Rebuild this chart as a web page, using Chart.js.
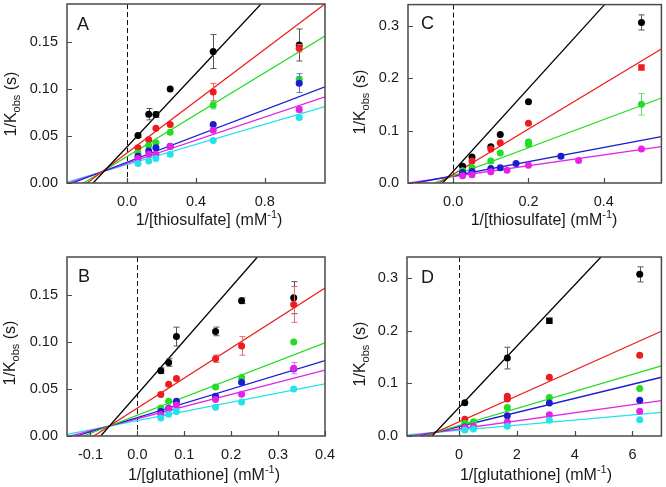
<!DOCTYPE html>
<html>
<head>
<meta charset="utf-8">
<script src="https://cdn.jsdelivr.net/npm/chart.js@4.4.1/dist/chart.umd.min.js"></script>
<style>
  body { margin: 0; background: #fff; }
  #wrap { position: relative; width: 666px; height: 487px; overflow: hidden; }
  canvas { position: absolute; }
</style>
</head>
<body>
<div id="wrap">
  <canvas id="panelA" width="333" height="243" style="left:0;top:0"></canvas>
  <canvas id="panelC" width="333" height="243" style="left:333px;top:0"></canvas>
  <canvas id="panelB" width="345" height="244" style="left:0;top:243px"></canvas>
  <canvas id="panelD" width="333" height="244" style="left:333px;top:243px"></canvas>
</div>
<script>
// ======================================================================
//  DATA
// ======================================================================

// ---- A : 1/[thiosulfate] ----
const xA = [0.0625, 0.125, 0.167, 0.25, 0.5, 1.0];
const aBlack   = [0.0505, 0.073, 0.0727, 0.0997, 0.1395, 0.1465];
const aRed     = [0.0374, 0.0458, 0.058, 0.0622, 0.0967, 0.143];
const aGreen   = [0.0318, 0.0399, 0.0427, 0.0538, 0.0827, 0.110];
const aBlue    = [0.0283, 0.0339, 0.0374, 0.039, 0.062, 0.106];
const aMagenta = [0.0259, 0.0304, 0.0304, 0.0388, 0.056, 0.078];
const aCyan    = [0.0206, 0.0234, 0.026, 0.0304, 0.045, 0.0696];
const aBlackErr   = [0.002, 0.006, 0.003, 0, 0.018, 0.017];
const aRedErr     = [0, 0, 0, 0, 0.009, 0.004];
const aGreenErr   = [0, 0, 0, 0, 0.004, 0.003];
const aBlueErr    = [0, 0, 0, 0, 0, 0.010];
const aMagentaErr = [0, 0, 0, 0, 0, 0.003];
const aCyanErr    = [0, 0, 0, 0, 0, 0.002];
// fitted lines: [x0, y0, x1, y1]
const fitA = [
    [-0.198, 0, 0.778, 0.19],
    [-0.233, 0, 1.15, 0.190],
    [-0.254, 0, 1.15, 0.156],
    [-0.319, 0, 1.15, 0.102],
    [-0.341, 0, 1.15, 0.0915],
    [-0.35, 0.001, 1.15, 0.081]
];

// ---- B : 1/[glutathione] ----
const xB = [0.05, 0.0667, 0.0833, 0.1667, 0.2222, 0.3333];
const bBlack   = [0.0693, 0.078, 0.1055, 0.111, 0.1436, 0.1468];
const bRed     = [0.044, 0.055, 0.061, 0.082, 0.0956, 0.1397];
const bGreen   = [0.0298, 0.037, 0.036, 0.052, 0.062, 0.0999];
const bBlue    = [0.026, 0.0295, 0.037, 0.0423, 0.057, 0.071];
const bMagenta = [0.0227, 0.0288, 0.033, 0.0387, 0.0444, 0.072];
const bCyan    = [0.0192, 0.023, 0.026, 0.0306, 0.036, 0.0498];
const bBlackErr   = [0.003, 0.004, 0.010, 0.0046, 0.003, 0.017];
const bRedErr     = [0, 0, 0, 0.004, 0.0098, 0.019];
const bMagentaErr = [0, 0, 0, 0, 0, 0.006];
const fitB = [
    [-0.078, 0, 0.256, 0.19],
    [-0.093, 0, 0.4, 0.157],
    [-0.115, 0, 0.4, 0.0988],
    [-0.13, 0, 0.4, 0.080],
    [-0.142, 0, 0.4, 0.070],
    [-0.15, 0.0018, 0.4, 0.0554]
];

// ---- C : 1/[thiosulfate] ----
const cBlackX   = [0.025, 0.05, 0.1, 0.125, 0.2, 0.5];
const cBlack    = [0.032, 0.0497, 0.069, 0.0925, 0.155, 0.306];
const cBlackErr = [0, 0, 0, 0, 0, 0.0144];
const cRedX     = [0.05, 0.1, 0.125, 0.2, 0.5];
const cRed      = [0.042, 0.0647, 0.0767, 0.1138, 0.22];
const cGreenX   = [0.025, 0.05, 0.1, 0.125, 0.2, 0.2, 0.5];
const cGreen    = [0.0232, 0.0296, 0.042, 0.057, 0.078, 0.0736, 0.150];
const cGreenErr = [0, 0, 0, 0, 0.004, 0, 0.0205];
const cBlueX    = [0.025, 0.05, 0.1, 0.125, 0.167, 0.286];
const cBlue     = [0.0201, 0.022, 0.0277, 0.0289, 0.037, 0.051];
const cBlueErr  = [0, 0, 0, 0, 0, 0.004];
const cMagentaX = [0.025, 0.05, 0.1, 0.143, 0.2, 0.333, 0.5];
const cMagenta  = [0.0138, 0.0157, 0.0214, 0.0245, 0.034, 0.043, 0.065];
const fitC = [
    [-0.028, 0, 0.402, 0.34],
    [-0.038, 0, 0.553, 0.2555],
    [-0.051, 0, 0.553, 0.162],
    [-0.1, 0, 0.553, 0.0883],
    [-0.118, 0, 0.553, 0.0695]
];

// ---- D : 1/[glutathione] ----
const dBlackX   = [0.2, 1.67, 3.125, 6.25];
const dBlack    = [0.0633, 0.148, 0.219, 0.307];
const dBlackErr = [0, 0.0206, 0, 0.0143];
const dRedX     = [0.2, 1.67, 1.67, 3.125, 6.25];
const dRed      = [0.0317, 0.0754, 0.0703, 0.1115, 0.1535];
const dGreenX   = [0.2, 0.5, 1.67, 3.125, 6.25];
const dGreen    = [0.024, 0.0272, 0.0539, 0.0729, 0.090];
const dBlueX    = [0.2, 1.67, 3.125, 6.25];
const dBlue     = [0.0171, 0.0387, 0.0627, 0.068];
const dMagentaX = [0.2, 0.5, 1.67, 3.125, 6.25];
const dMagenta  = [0.016, 0.0184, 0.0266, 0.0406, 0.047];
const dCyanX    = [0.2, 0.5, 1.67, 3.125, 6.25];
const dCyan     = [0.0114, 0.0133, 0.0184, 0.0298, 0.031];
const fitD = [
    [-0.93, 0, 4.91, 0.34],
    [-1.095, 0, 7, 0.199],
    [-1.244, 0, 7, 0.133],
    [-1.333, 0, 7, 0.1116],
    [-1.72, 0, 7, 0.067],
    [-1.8, 0.0022, 7, 0.045]
];

// tick values
const xTicksA = [0.0, 0.4, 0.8];
const xTicksB = [-0.1, 0.0, 0.1, 0.2, 0.3, 0.4];
const xTicksC = [0.0, 0.2, 0.4];
const xTicksD = [0, 2, 4, 6];
const yTicksAB = [0, 0.05, 0.10, 0.15];
const yTicksCD = [0, 0.1, 0.2, 0.3];

// ======================================================================
//  STYLE
// ======================================================================

const COL = {
    black:   "#000000",
    red:     "#ee1c1c",
    green:   "#22dd22",
    blue:    "#1c1cd0",
    magenta: "#e620e6",
    cyan:    "#22e2ea"
};
const ERR = {
    black:   "#555555",
    red:     "#ee6a6a",
    green:   "#70dc70",
    blue:    "#6a6ae0",
    magenta: "#e676e6",
    cyan:    "#7ae6ec"
};
const FIT_ORDER = ["black", "red", "green", "blue", "magenta", "cyan"];
const FONT = "'Liberation Sans', Arial, Helvetica, sans-serif";
const FRAME = "#4a4a4a";

// ======================================================================
//  PLUGIN : frame, inward ticks, dashed zero line, error bars, texts
// ======================================================================

const panelPlugin = {
    id: "panelDeco",
    beforeDatasetsDraw(chart) {
        const { ctx, chartArea: a, scales } = chart;
        const x0 = scales.x.getPixelForValue(0);
        ctx.save();
        ctx.strokeStyle = "#111";
        ctx.lineWidth = 1;
        ctx.setLineDash([5, 3]);
        ctx.beginPath();
        ctx.moveTo(Math.round(x0) + 0.5, a.top);
        ctx.lineTo(Math.round(x0) + 0.5, a.bottom);
        ctx.stroke();
        ctx.restore();
    },
    beforeDatasetDraw(chart, args) {
        const ds = chart.data.datasets[args.index];
        if (!ds.errors) return;
        const { ctx, scales } = chart;
        ctx.save();
        ctx.strokeStyle = ds.errColor;
        ctx.lineWidth = 1;
        ds.data.forEach((p, i) => {
            const e = ds.errors[i];
            if (!e) return;
            const px = Math.round(scales.x.getPixelForValue(p.x)) + 0.5;
            const yt = scales.y.getPixelForValue(p.y + e);
            const yb = scales.y.getPixelForValue(p.y - e);
            ctx.beginPath();
            ctx.moveTo(px, yt); ctx.lineTo(px, yb);
            ctx.moveTo(px - 3, yt); ctx.lineTo(px + 3, yt);
            ctx.moveTo(px - 3, yb); ctx.lineTo(px + 3, yb);
            ctx.stroke();
        });
        ctx.restore();
    },
    afterDraw(chart) {
        const { ctx, chartArea: a, scales } = chart;
        const o = chart.options.plugins.panelDeco;
        ctx.save();

        // inward ticks
        ctx.strokeStyle = FRAME;
        ctx.lineWidth = 1.2;
        ctx.beginPath();
        scales.x.ticks.forEach(t => {
            const px = Math.round(scales.x.getPixelForValue(t.value)) + 0.5;
            ctx.moveTo(px, a.bottom); ctx.lineTo(px, a.bottom - 5);
        });
        scales.y.ticks.forEach(t => {
            const py = Math.round(scales.y.getPixelForValue(t.value)) + 0.5;
            ctx.moveTo(a.left, py); ctx.lineTo(a.left + 5, py);
        });
        ctx.stroke();

        // frame
        ctx.lineWidth = 1.5;
        ctx.strokeRect(a.left, a.top, a.right - a.left, a.bottom - a.top);

        ctx.fillStyle = "#1a1a1a";

        // panel letter
        ctx.font = "18px " + FONT;
        ctx.textBaseline = "alphabetic";
        ctx.textAlign = "left";
        ctx.fillText(o.letter, o.letterPos[0], o.letterPos[1]);

        // y title : 1/K_obs (s)
        drawParts(ctx, [
            { t: "1/K", size: 16, dy: 0 },
            { t: "obs", size: 11, dy: 5 },
            { t: " (s)", size: 16, dy: 0 }
        ], o.yTitlePos[0], o.yTitlePos[1], true);

        // x title : 1/[...] (mM-1)
        drawParts(ctx, [
            { t: "1/[" + o.compound + "] (mM", size: 16, dy: 0 },
            { t: "-1", size: 11, dy: -6 },
            { t: ")", size: 16, dy: 0 }
        ], o.xTitlePos[0], o.xTitlePos[1], false);

        ctx.restore();
    }
};

function drawParts(ctx, parts, cx, cy, vertical) {
    let total = 0;
    parts.forEach(p => {
        ctx.font = p.size + "px " + FONT;
        p.w = ctx.measureText(p.t).width;
        total += p.w;
    });
    ctx.save();
    ctx.translate(cx, cy);
    if (vertical) ctx.rotate(-Math.PI / 2);
    ctx.textBaseline = "middle";
    ctx.textAlign = "left";
    let x = -total / 2;
    parts.forEach(p => {
        ctx.font = p.size + "px " + FONT;
        ctx.fillText(p.t, x, p.dy);
        x += p.w;
    });
    ctx.restore();
}

// ======================================================================
//  BUILD ONE PANEL
// ======================================================================

function points(xs, ys) {
    return xs.map((x, i) => ({ x: x, y: ys[i] }));
}

function buildPanel(cfg) {
    const canvas = document.getElementById(cfg.id);
    const W = canvas.width, H = canvas.height;
    const area = cfg.area;
    const datasets = [];

    cfg.series.forEach(s => {
        const shapes = s.shapes || s.x.map(() => "circle");
        datasets.push({
            data: points(s.x, s.y),
            errors: s.err || null,
            errColor: ERR[s.color],
            backgroundColor: COL[s.color],
            borderColor: COL[s.color],
            pointRadius: shapes.map(sh => sh === "rect" ? 4.6 : 3.5),
            pointStyle: shapes,
            pointBorderWidth: 0,
            showLine: false,
            order: 0
        });
    });

    cfg.fits.forEach((f, i) => {
        datasets.push({
            data: [{ x: f[0], y: f[1] }, { x: f[2], y: f[3] }],
            borderColor: COL[FIT_ORDER[i]],
            borderWidth: 1.3,
            pointRadius: 0,
            showLine: true,
            fill: false,
            clip: 0,
            order: 1
        });
    });

    const tickFont = { family: FONT, size: 14.5 };

    return new Chart(canvas, {
        type: "scatter",
        data: { datasets },
        plugins: [panelPlugin],
        options: {
            responsive: false,
            animation: false,
            events: [],
            layout: { padding: { left: 0, right: W - area.right, top: area.top, bottom: 0 } },
            plugins: {
                legend: { display: false },
                tooltip: { enabled: false },
                panelDeco: cfg.deco
            },
            scales: {
                x: {
                    type: "linear",
                    min: cfg.xMin, max: cfg.xMax,
                    grid: { display: false, drawTicks: false },
                    border: { display: false },
                    afterBuildTicks: sc => { sc.ticks = cfg.xTicks.map(v => ({ value: v })); },
                    afterFit: sc => {
                        sc.height = H - area.bottom;
                        sc.paddingLeft = 0; sc.paddingRight = 0;
                    },
                    ticks: {
                        padding: 10,
                        color: "#1a1a1a",
                        font: tickFont,
                        maxRotation: 0,
                        autoSkip: false,
                        callback: v => v.toFixed(cfg.xDec)
                    }
                },
                y: {
                    type: "linear",
                    min: 0, max: cfg.yMax,
                    grid: { display: false, drawTicks: false },
                    border: { display: false },
                    afterBuildTicks: sc => { sc.ticks = cfg.yTicks.map(v => ({ value: v })); },
                    afterFit: sc => {
                        sc.width = area.left;
                        sc.paddingTop = 0; sc.paddingBottom = 0;
                    },
                    ticks: {
                        padding: 9,
                        color: "#1a1a1a",
                        font: tickFont,
                        autoSkip: false,
                        callback: v => v.toFixed(cfg.yDec)
                    }
                }
            }
        }
    });
}

// ======================================================================
//  PANELS
// ======================================================================

buildPanel({
    id: "panelA",
    area: { left: 67, right: 325, top: 3, bottom: 183 },
    xMin: -0.35, xMax: 1.15, yMax: 0.19,
    xTicks: xTicksA, yTicks: yTicksAB, xDec: 1, yDec: 2,
    series: [
        { x: xA, y: aCyan, err: aCyanErr, color: "cyan" },
        { x: xA, y: aMagenta, err: aMagentaErr, color: "magenta" },
        { x: xA, y: aBlue, err: aBlueErr, color: "blue" },
        { x: xA, y: aGreen, err: aGreenErr, color: "green" },
        { x: xA, y: aRed, err: aRedErr, color: "red" },
        { x: xA, y: aBlack, err: aBlackErr, color: "black" }
    ],
    fits: fitA,
    deco: { letter: "A", letterPos: [77, 30], compound: "thiosulfate",
            yTitlePos: [12, 104], xTitlePos: [209, 221] }
});

buildPanel({
    id: "panelC",
    area: { left: 75, right: 332, top: 3, bottom: 183 },
    xMin: -0.12, xMax: 0.553, yMax: 0.34,
    xTicks: xTicksC, yTicks: yTicksCD, xDec: 1, yDec: 1,
    series: [
        { x: cMagentaX, y: cMagenta, err: null, color: "magenta" },
        { x: cBlueX, y: cBlue, err: cBlueErr, color: "blue" },
        { x: cGreenX, y: cGreen, err: cGreenErr, color: "green" },
        { x: cRedX, y: cRed, err: null, color: "red",
          shapes: ["circle", "circle", "circle", "circle", "rect"] },
        { x: cBlackX, y: cBlack, err: cBlackErr, color: "black" }
    ],
    fits: fitC,
    deco: { letter: "C", letterPos: [88, 29], compound: "thiosulfate",
            yTitlePos: [28, 102], xTitlePos: [211, 221] }
});

buildPanel({
    id: "panelB",
    area: { left: 67, right: 325, top: 14, bottom: 193 },
    xMin: -0.15, xMax: 0.4, yMax: 0.19,
    xTicks: xTicksB, yTicks: yTicksAB, xDec: 1, yDec: 2,
    series: [
        { x: xB, y: bCyan, err: null, color: "cyan" },
        { x: xB, y: bMagenta, err: bMagentaErr, color: "magenta" },
        { x: xB, y: bBlue, err: null, color: "blue" },
        { x: xB, y: bGreen, err: null, color: "green" },
        { x: xB, y: bRed, err: bRedErr, color: "red" },
        { x: xB, y: bBlack, err: bBlackErr, color: "black" }
    ],
    fits: fitB,
    deco: { letter: "B", letterPos: [78, 39], compound: "glutathione",
            yTitlePos: [11, 110], xTitlePos: [204, 233] }
});

buildPanel({
    id: "panelD",
    area: { left: 74, right: 332, top: 14, bottom: 193 },
    xMin: -1.8, xMax: 7, yMax: 0.34,
    xTicks: xTicksD, yTicks: yTicksCD, xDec: 0, yDec: 1,
    series: [
        { x: dCyanX, y: dCyan, err: null, color: "cyan" },
        { x: dMagentaX, y: dMagenta, err: null, color: "magenta" },
        { x: dBlueX, y: dBlue, err: null, color: "blue" },
        { x: dGreenX, y: dGreen, err: null, color: "green" },
        { x: dRedX, y: dRed, err: null, color: "red" },
        { x: dBlackX, y: dBlack, err: dBlackErr, color: "black",
          shapes: ["circle", "circle", "rect", "circle"] }
    ],
    fits: fitD,
    deco: { letter: "D", letterPos: [88, 40], compound: "glutathione",
            yTitlePos: [28, 111], xTitlePos: [203, 233] }
});
</script>
</body>
</html>
